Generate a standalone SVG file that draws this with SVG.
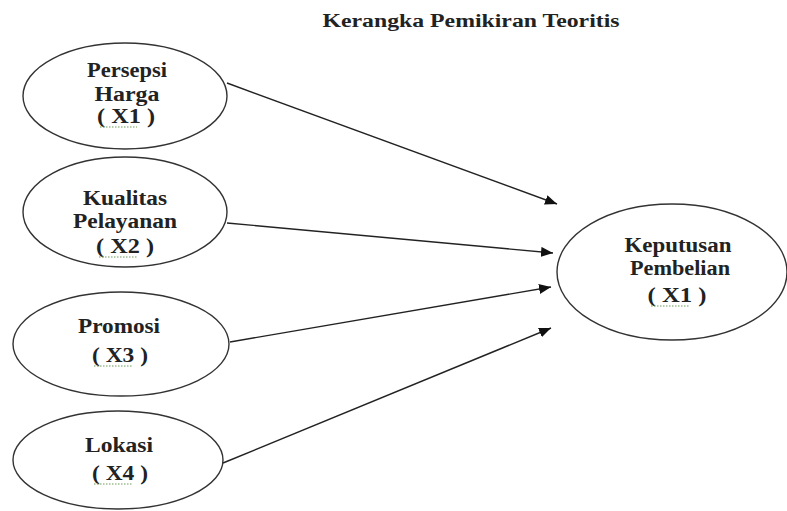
<svg xmlns="http://www.w3.org/2000/svg" width="787" height="511" viewBox="0 0 787 511">
<style>
.node{fill:#fff;stroke:#333;stroke-width:1.4}
.lbl{font-family:"Liberation Serif","Times New Roman",serif;font-weight:bold;font-size:20px;fill:#222;text-anchor:middle}
.title{font-family:"Liberation Serif","Times New Roman",serif;font-weight:bold;font-size:18.5px;fill:#222;text-anchor:middle}
.edge{stroke:#222;stroke-width:1.4;fill:none}
.sq{stroke:#6a9a55;stroke-width:1;stroke-dasharray:1.5 1.5;fill:none}
</style>
<defs>
<marker id="ah" viewBox="0 0 12 10" refX="12" refY="5" markerWidth="12" markerHeight="10" markerUnits="userSpaceOnUse" orient="auto">
<path d="M0,0 L12,5 L0,10 z" fill="#111"/>
</marker>
</defs>
<rect width="787" height="511" fill="#fff"/>
<text class="title" x="471" y="27" textLength="297" lengthAdjust="spacingAndGlyphs">Kerangka Pemikiran Teoritis</text>
<g id="connectors">
<line class="edge" x1="227" y1="83" x2="557" y2="204" marker-end="url(#ah)"/>
<line class="edge" x1="227" y1="223" x2="553" y2="253" marker-end="url(#ah)"/>
<line class="edge" x1="230" y1="342" x2="551" y2="287" marker-end="url(#ah)"/>
<line class="edge" x1="223" y1="463" x2="551" y2="328" marker-end="url(#ah)"/>
</g>
<g id="x1">
<ellipse class="node" cx="125" cy="96" rx="102" ry="53"/>
<text class="lbl" x="127" y="77" textLength="80" lengthAdjust="spacingAndGlyphs">Persepsi</text>
<text class="lbl" x="127" y="101" textLength="65" lengthAdjust="spacingAndGlyphs">Harga</text>
<text class="lbl" x="126" y="123" textLength="58" lengthAdjust="spacingAndGlyphs">( X1 )</text>
<path class="sq" d="M100,127 H137"/>
</g>
<g id="x2">
<ellipse class="node" cx="125" cy="212" rx="102" ry="55"/>
<text class="lbl" x="125" y="205" textLength="84" lengthAdjust="spacingAndGlyphs">Kualitas</text>
<text class="lbl" x="125" y="228" textLength="104" lengthAdjust="spacingAndGlyphs">Pelayanan</text>
<text class="lbl" x="125" y="253" textLength="58" lengthAdjust="spacingAndGlyphs">( X2 )</text>
<path class="sq" d="M99,257 H137"/>
</g>
<g id="x3">
<ellipse class="node" cx="121" cy="344" rx="108" ry="52"/>
<text class="lbl" x="119" y="333" textLength="82" lengthAdjust="spacingAndGlyphs">Promosi</text>
<text class="lbl" x="120" y="362" textLength="56" lengthAdjust="spacingAndGlyphs">( X3 )</text>
<path class="sq" d="M94,366 H133"/>
</g>
<g id="x4">
<ellipse class="node" cx="118" cy="460" rx="105" ry="49"/>
<text class="lbl" x="119" y="452" textLength="68" lengthAdjust="spacingAndGlyphs">Lokasi</text>
<text class="lbl" x="120" y="480" textLength="56" lengthAdjust="spacingAndGlyphs">( X4 )</text>
<path class="sq" d="M94,484 H132"/>
</g>
<g id="y1">
<ellipse class="node" cx="672" cy="272" rx="115" ry="68"/>
<text class="lbl" x="678" y="252" textLength="107" lengthAdjust="spacingAndGlyphs">Keputusan</text>
<text class="lbl" x="680" y="275" textLength="100" lengthAdjust="spacingAndGlyphs">Pembelian</text>
<text class="lbl" x="677" y="302" textLength="59" lengthAdjust="spacingAndGlyphs">( X1 )</text>
<path class="sq" d="M651,306 H689"/>
</g>
</svg>
